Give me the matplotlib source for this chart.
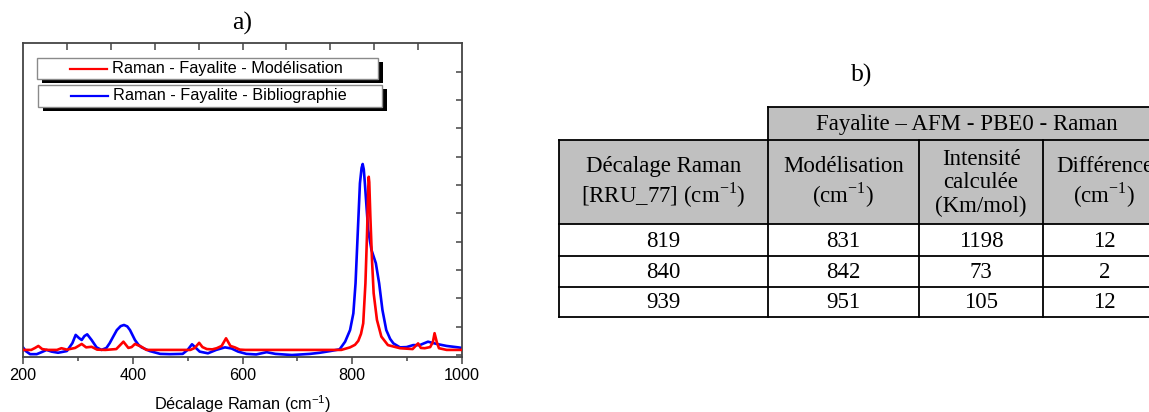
import matplotlib

matplotlib.use("Agg")
import matplotlib.pyplot as plt
from matplotlib.lines import Line2D
from matplotlib.patches import Rectangle

# spectre modélisé (rouge) : décalage Raman (cm-1) et intensité (unités des graduations de droite)
modelisation_x = [200, 215, 222, 228, 235, 245, 262, 270, 280, 295, 307, 315, 325, 335, 350,
                  370, 383, 392, 398, 404, 410, 416, 425, 505, 513, 521, 527, 535, 545, 553,
                  562, 570, 578, 586, 595, 605, 780, 796, 805, 811, 816, 820, 824, 827, 829,
                  830, 831, 833, 836, 839, 845, 853, 865, 887, 910, 920, 925, 932, 942, 947,
                  950, 954, 958, 972, 1000]
modelisation_y = [0.18, 0.18, 0.25, 0.32, 0.21, 0.18, 0.18, 0.24, 0.19, 0.25, 0.39, 0.27, 0.29,
                  0.19, 0.18, 0.21, 0.47, 0.25, 0.28, 0.39, 0.34, 0.29, 0.18, 0.18, 0.25, 0.43,
                  0.28, 0.21, 0.20, 0.24, 0.32, 0.59, 0.32, 0.27, 0.19, 0.18, 0.18, 0.27, 0.36,
                  0.50, 0.75, 1.12, 2.53, 4.30, 5.80, 6.29, 6.10, 4.88, 3.35, 2.18, 1.24, 0.65,
                  0.35, 0.24, 0.21, 0.41, 0.25, 0.24, 0.28, 0.46, 0.77, 0.46, 0.24, 0.18, 0.18]

# spectre de la bibliographie (bleu)
biblio_x = [200, 205, 213, 225, 235, 243, 252, 264, 280, 290, 296, 302, 307, 312, 317, 325,
            334, 343, 352, 358, 365, 371, 378, 384, 390, 395, 404, 410, 416, 431, 450, 468,
            491, 500, 508, 515, 522, 537, 552, 568, 580, 592, 607, 625, 644, 660, 690, 723,
            741, 760, 777, 787, 796, 802, 806, 810, 814, 817, 819, 821, 823, 829, 835, 843,
            849, 855, 862, 869, 875, 887, 899, 911, 923, 938, 954, 972, 993, 1000]
biblio_y = [0.27, 0.14, 0.03, 0.03, 0.11, 0.18, 0.12, 0.08, 0.14, 0.42, 0.71, 0.60, 0.53, 0.67,
            0.73, 0.53, 0.27, 0.18, 0.25, 0.42, 0.67, 0.88, 1.02, 1.06, 1.01, 0.88, 0.53, 0.37,
            0.27, 0.14, 0.04, 0.03, 0.04, 0.18, 0.38, 0.25, 0.12, 0.06, 0.18, 0.27, 0.23, 0.12,
            0.04, 0.02, 0.10, 0.04, 0.00, 0.04, 0.08, 0.14, 0.20, 0.47, 0.88, 1.47, 2.53, 4.30,
            6.06, 6.60, 6.74, 6.55, 6.06, 4.41, 3.71, 3.24, 2.53, 1.59, 0.88, 0.57, 0.41, 0.27,
            0.28, 0.35, 0.35, 0.47, 0.39, 0.32, 0.27, 0.25]

legende = ["Raman - Fayalite - Modélisation", "Raman - Fayalite - Bibliographie"]

# tableau b)
titre_tableau = "Fayalite – AFM - PBE0 - Raman"
entetes = ["Décalage Raman\n[RRU_77] (cm$^{\\mathregular{-1}}$)",
           "Modélisation\n(cm$^{\\mathregular{-1}}$)",
           "Intensité\ncalculée\n(Km/mol)",
           "Différence\n(cm$^{\\mathregular{-1}}$)"]
decalage_rru77 = [819, 840, 939]
modelisation = [831, 842, 951]
intensite = [1198, 73, 105]
difference = [12, 2, 12]

SANS = "Liberation Sans"
SERIF = "Liberation Serif"
GRIS = "#444444"


def make_plot():
    W, H = 1149, 412
    fig = plt.figure(figsize=(W / 100, H / 100), dpi=100)

    # ---- a) spectres
    ax = fig.add_axes([23 / W, 1 - 357 / H, 439 / W, 314 / H])
    ax.plot(modelisation_x, modelisation_y, color="#ff0000", lw=1.9, zorder=3)
    ax.plot(biblio_x, biblio_y, color="#0000ff", lw=1.9, zorder=2)
    ax.set_xlim(200, 1000)
    ax.set_ylim(-0.07, 11.01)

    for s in ax.spines.values():
        s.set_color(GRIS)
        s.set_linewidth(1.3)

    ax.set_xticks([200, 400, 600, 800, 1000])
    ax.set_xticks([300, 500, 700, 900], minor=True)
    ax.tick_params(axis="x", which="major", direction="out", length=5, width=1.1,
                   color=GRIS, labelsize=11.7, pad=3)
    ax.tick_params(axis="x", which="minor", direction="out", length=3, width=1.1, color=GRIS)
    for lab in ax.get_xticklabels():
        lab.set_fontfamily(SANS)

    ax.yaxis.tick_right()
    ax.set_yticks(range(0, 11))
    ax.tick_params(axis="y", direction="in", length=4, width=1.1, color=GRIS,
                   labelright=False)

    top = ax.secondary_xaxis("top")
    top.set_xticks(range(280, 1000, 80))
    top.tick_params(direction="in", length=5, width=1.1, color=GRIS, labeltop=False)
    top.spines["top"].set_visible(False)

    ax.set_xlabel("Décalage Raman (cm$^{\\mathregular{-1}}$)", fontfamily=SANS,
                  fontsize=11.7, labelpad=7)

    # couche en pixels pour la légende, les titres et le tableau
    ov = fig.add_axes([0, 0, 1, 1])
    ov.set_xlim(0, W)
    ov.set_ylim(H, 0)
    ov.axis("off")

    ov.text(242, 23, "a)", fontfamily=SERIF, fontsize=18.5, ha="center", va="center")
    ov.text(862, 75, "b)", fontfamily=SERIF, fontsize=18.5, ha="center", va="center")

    # légende façon Origin : deux boîtes avec ombre
    boites = [(36.7, 58.3, 341.6, 21.0), (37.7, 85.0, 344.0, 21.7)]
    for (bx, by, bw, bh), lab, col in zip(boites, legende, ["#ff0000", "#0000ff"]):
        ov.add_patch(Rectangle((bx + 5, by + 4), bw, bh, facecolor="black", edgecolor="none"))
        ov.add_patch(Rectangle((bx, by), bw, bh, facecolor="white", edgecolor="#8a8a8a", lw=1))
        yc = by + bh / 2
        ov.add_line(Line2D([bx + 33.5, bx + 70.5], [yc, yc], color=col, lw=1.6))
        ov.text(bx + 75, yc, lab, fontfamily=SANS, fontsize=11.7, ha="left", va="center")

    # ---- b) tableau
    cols = [559, 768, 919, 1043, 1166]
    lignes = [107, 140, 224, 256, 287, 317]
    gris_fond = "#c0c0c0"
    lw = 1.3
    ov.add_patch(Rectangle((cols[1], lignes[0]), cols[-1] - cols[1], lignes[1] - lignes[0],
                           facecolor=gris_fond, edgecolor="none"))
    ov.add_patch(Rectangle((cols[0], lignes[1]), cols[-1] - cols[0], lignes[2] - lignes[1],
                           facecolor=gris_fond, edgecolor="none"))
    ov.plot([cols[1], cols[-1]], [lignes[0], lignes[0]], color="black", lw=lw)
    for y in lignes[1:]:
        ov.plot([cols[0], cols[-1]], [y, y], color="black", lw=lw)
    ov.plot([cols[0], cols[0]], [lignes[1], lignes[-1]], color="black", lw=lw)
    ov.plot([cols[1], cols[1]], [lignes[0], lignes[-1]], color="black", lw=lw)
    for x in cols[2:]:
        ov.plot([x, x], [lignes[1], lignes[-1]], color="black", lw=lw)

    txt = dict(fontfamily=SERIF, fontsize=16.5, ha="center", va="center", linespacing=1.15)
    ov.text((cols[1] + cols[-1]) / 2, (lignes[0] + lignes[1]) / 2 + 1, titre_tableau, **txt)
    centres = [(cols[i] + cols[i + 1]) / 2 for i in range(4)]
    for xc, e in zip(centres, entetes):
        ov.text(xc, (lignes[1] + lignes[2]) / 2 + 1, e, **txt)
    valeurs = [decalage_rru77, modelisation, intensite, difference]
    for r in range(3):
        yc = (lignes[r + 2] + lignes[r + 3]) / 2 + 1
        for xc, col in zip(centres, valeurs):
            ov.text(xc, yc, str(col[r]), **txt)

    fig.savefig("out.png", dpi=100)


if __name__ == "__main__":
    make_plot()
